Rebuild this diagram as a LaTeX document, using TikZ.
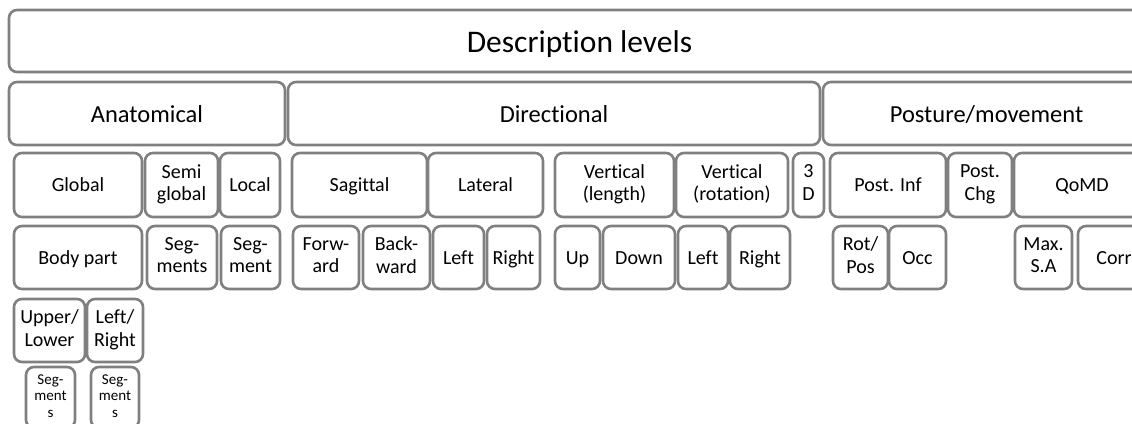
\documentclass[tikz,border=0pt]{standalone}
\usepackage{fontspec}
\setmainfont{Carlito}[RawFeature=-liga]
\definecolor{edge}{RGB}{128,128,128}
\newcommand\mystrut{\rule[-0.2\baselineskip]{0pt}{\baselineskip}}
\tikzset{
  bx/.style={draw=edge, line width=2.6pt, fill=white, rounded corners=8pt,
    align=center, inner sep=0pt, rectangle,
    execute at begin node=\mystrut, execute at end node=\mystrut},
  ftitle/.style={font=\fontsize{31.5}{38}\selectfont},
  fmid/.style={font=\fontsize{24.5}{29}\selectfont},
  frow/.style={font=\fontsize{20}{22.5}\selectfont},
  fsmall/.style={font=\fontsize{15}{16.5}\selectfont},
}
% \bx[style]{name}{x1}{y1}{x2}{y2}{text}
\newcommand\bx[7][frow]{%
  \node[bx,#1,minimum width={#5-#3}, minimum height={#6-#4}]
    (#2) at ({(#3+#5)/2},{-(#4+#6)/2}) {#7};}
\begin{document}
\begin{tikzpicture}[x=1pt,y=1pt]
\useasboundingbox (0,0) rectangle (1132,-423);
\clip (0,0) rectangle (1132,-423);
% level 1
\bx[ftitle]{title}{9}{10}{1150}{72}{Description levels}
% level 2
\bx[fmid]{anat}{9}{82}{285}{145}{Anatomical}
\bx[fmid]{dir}{288}{82}{820}{145}{Directional}
\bx[fmid]{post}{823}{82}{1150}{145}{Posture/movement}
% level 3
\bx{global}{14}{153}{142}{217}{Global}
\bx{semi}{145}{153}{218}{217}{Semi\\global}
\bx{local}{220}{153}{280}{217}{Local}
\bx{sag}{292}{153}{427}{217}{Sagittal}
\bx{lat}{428}{153}{543}{217}{Lateral}
\bx{vlen}{555}{153}{674}{217}{Vertical\\(length)}
\bx{vrot}{676}{153}{788}{217}{Vertical\\(rotation)}
\bx{threed}{793}{153}{824}{217}{3\\D}
\bx{pinf}{830}{153}{946}{217}{Post. Inf}
\bx{pchg}{948}{153}{1012}{217}{Post.\\Chg}
\bx{qomd}{1014}{153}{1150}{217}{QoMD}
% level 4
\bx{body}{14}{226}{142}{289}{Body part}
\bx{segs}{147}{226}{217}{289}{Seg-\\ments}
\bx{seg}{221}{226}{280}{289}{Seg-\\ment}
\bx{fwd}{293}{226}{359}{289}{Forw-\\ard}
\bx{bwd}{363}{226}{430}{289}{Back-\\ward}
\bx{lleft}{433}{226}{484}{289}{Left}
\bx{lright}{487}{226}{540}{289}{Right}
\bx{up}{555}{226}{600}{289}{Up}
\bx{down}{603}{226}{675}{289}{Down}
\bx{rleft}{678}{226}{728}{289}{Left}
\bx{rright}{730}{226}{790}{289}{Right}
\bx{rotpos}{833}{226}{888}{289}{Rot/\\Pos}
\bx{occ}{889}{226}{946}{289}{Occ}
\bx{maxsa}{1015}{226}{1072}{289}{Max.\\S.A}
\bx{corr}{1078}{226}{1150}{289}{Corr}
% level 5
\bx{uplow}{14}{299}{85}{362}{Upper/\\Lower}
\bx{lr}{87}{299}{143}{362}{Left/\\Right}
% level 6
\bx[fsmall]{sega}{26}{367}{75}{428}{Seg-\\ment\\s}
\bx[fsmall]{segb}{91}{367}{139}{428}{Seg-\\ment\\s}
\end{tikzpicture}
\end{document}
